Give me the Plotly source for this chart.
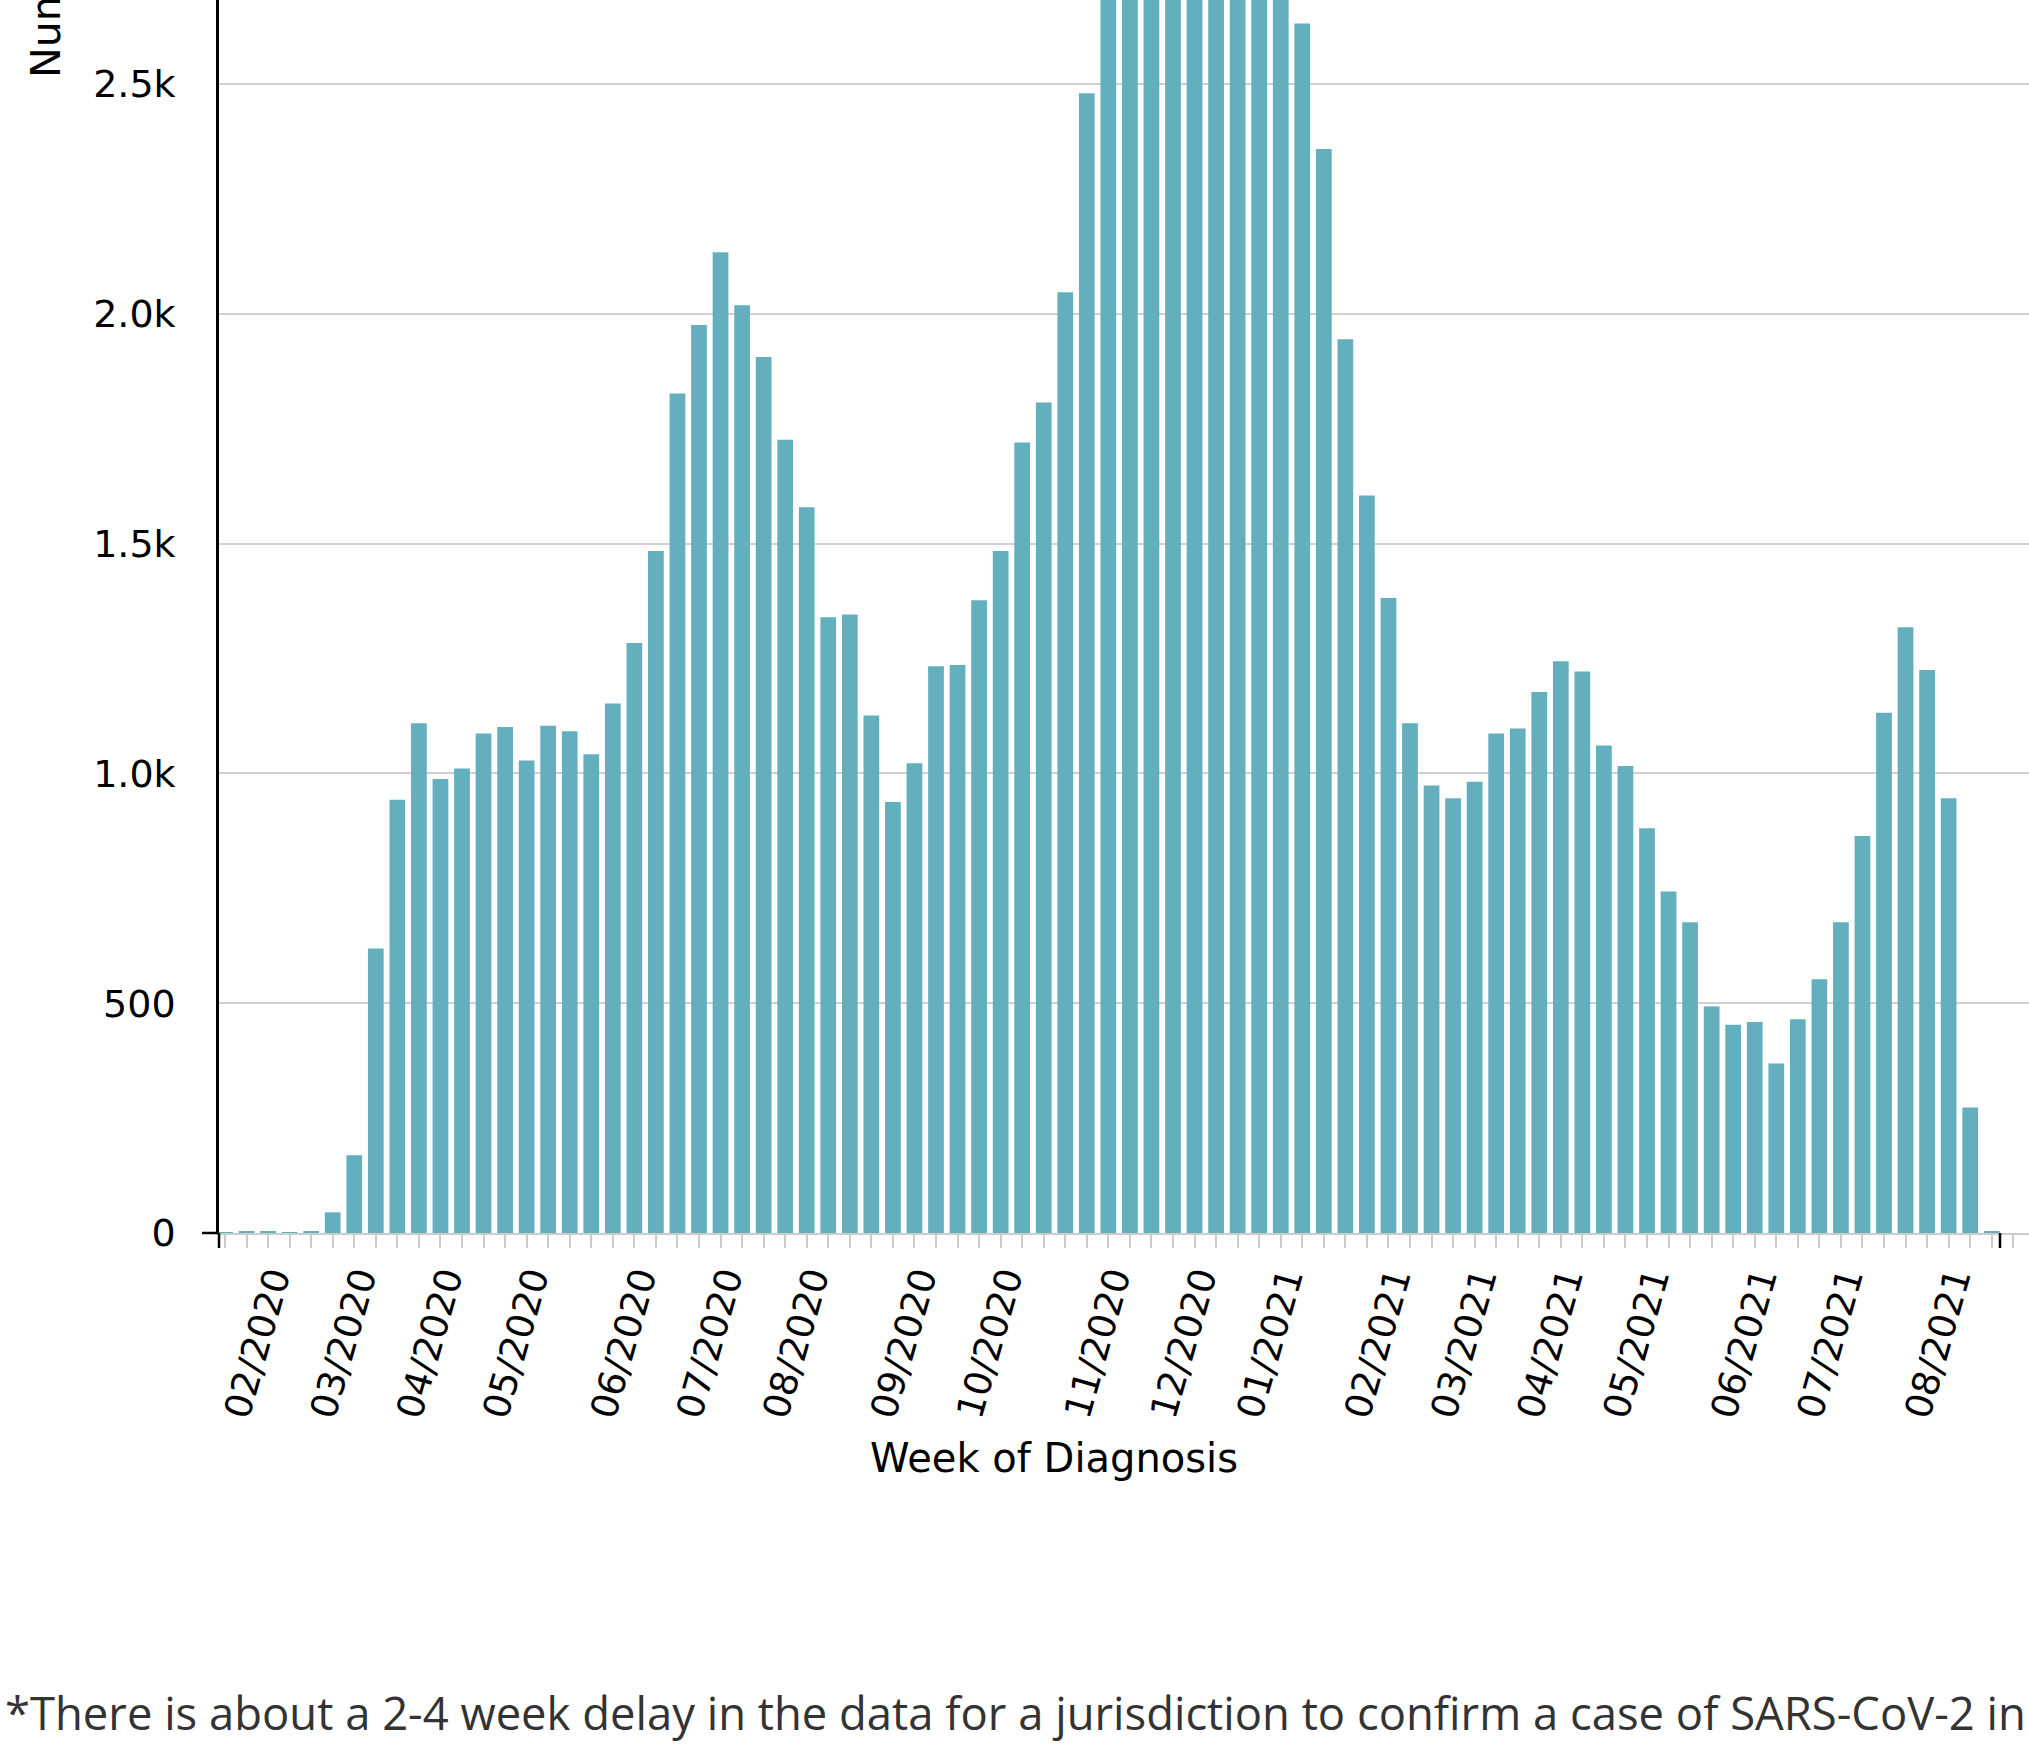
import pandas as pd
import plotly.graph_objects as go

# ---- data ----
first_week = "2020-01-18"
n_weeks = 83
weeks = pd.date_range(first_week, periods=n_weeks, freq="7D")

cases = [1, 4, 4, 1, 4, 45, 169, 619, 943, 1109,
         988, 1011, 1087, 1101, 1028, 1104, 1092, 1042, 1152, 1284,
         1484, 1827, 1976, 2134, 2019, 1906, 1726, 1579, 1340, 1346,
         1126, 938, 1022, 1233, 1236, 1377, 1484, 1720, 1807, 2047,
         2480, 2850, 3100, 3350, 3500, 3450, 3300, 3400, 3150, 2900,
         2632, 2359, 1945, 1605, 1382, 1109, 974, 946, 982, 1087,
         1098, 1177, 1244, 1222, 1061, 1016, 881, 743, 676, 493,
         453, 459, 369, 465, 552, 676, 864, 1132, 1318, 1225,
         946, 273, 4]

x_tick_dates = ["2020-02-08", "2020-03-07", "2020-04-04", "2020-05-02", "2020-06-06",
                "2020-07-04", "2020-08-01", "2020-09-05", "2020-10-03", "2020-11-07",
                "2020-12-05", "2021-01-02", "2021-02-06", "2021-03-06", "2021-04-03",
                "2021-05-01", "2021-06-05", "2021-07-03", "2021-08-07"]
x_tick_labels = ["02/2020", "03/2020", "04/2020", "05/2020", "06/2020",
                 "07/2020", "08/2020", "09/2020", "10/2020", "11/2020",
                 "12/2020", "01/2021", "02/2021", "03/2021", "04/2021",
                 "05/2021", "06/2021", "07/2021", "08/2021"]
y_tick_vals = [0, 500, 1000, 1500, 2000, 2500]
y_tick_labels = ["0", "500", "1.0k", "1.5k", "2.0k", "2.5k"]

# ---- layout geometry (pixels) ----
W, H = 2029, 1752
L, R, T, B = 219, 0, 0, 519
PW, PH = W - L - R, H - T - B
day = pd.Timedelta(days=1)
x0 = pd.Timestamp(first_week) - 0.278 * 7 * day
x1 = pd.Timestamp(first_week) + 83.73 * 7 * day
# rotated labels end on the tick with their lower edge: nudge anchor left
label_shift = pd.Timedelta(hours=5.4 * 24)
tick_positions = [pd.Timestamp(d) - label_shift for d in x_tick_dates]

def px(xp):
    return (xp - L) / PW

def py(yp):
    return (H - B - yp) / PH

BAR = "#63afbd"
FONT = "DejaVu Sans"

fig = go.Figure(go.Bar(x=weeks, y=cases, marker=dict(color=BAR, line=dict(width=0))))

fig.update_layout(
    width=W, height=H, autosize=False,
    margin=dict(l=L, r=R, t=T, b=B, pad=0),
    paper_bgcolor="white", plot_bgcolor="white",
    bargap=0.27, showlegend=False,
    font=dict(family=FONT, color="black"),
)

fig.update_xaxes(
    type="date", range=[x0, x1],
    tickmode="array", tickvals=tick_positions, ticktext=x_tick_labels,
    tickangle=-74, tickfont=dict(family=FONT, size=37, color="black"),
    ticks="", ticklen=0,
    minor=dict(ticks="outside", ticklen=13, tickwidth=2, tickcolor="#cccccc",
               dtick=7 * 86400000, tick0=first_week, showgrid=False),
    showgrid=False, zeroline=False,
    showline=True, linecolor="#cccccc", linewidth=2,
    ticklabelstandoff=7,
)

fig.update_yaxes(
    range=[0, 2683],
    tickmode="array", tickvals=y_tick_vals, ticktext=y_tick_labels,
    tickfont=dict(family=FONT, size=38, color="black"),
    ticks="", showgrid=True, gridcolor="#d0d0d0", gridwidth=2,
    zeroline=False, showline=True, linecolor="black", linewidth=2.5,
    ticklabelstandoff=33,
)

# outer ticks of axes (domain ends)
line_k = dict(color="black", width=2.5)
fig.add_shape(type="line", xref="paper", yref="paper",
              x0=px(202), x1=px(219), y0=py(1233), y1=py(1233), line=line_k)
fig.add_shape(type="line", xref="paper", yref="paper",
              x0=px(219), x1=px(219), y0=py(1233), y1=py(1248), line=line_k)
fig.add_shape(type="line", xref="paper", yref="paper",
              x0=px(2000), x1=px(2000), y0=py(1233), y1=py(1248), line=line_k)

# axis titles and footnote
fig.add_annotation(text="Week of Diagnosis", xref="paper", yref="paper",
                   x=px(1054), y=py(1458), xanchor="center", yanchor="middle",
                   showarrow=False, font=dict(family=FONT, size=40, color="black"))
fig.add_annotation(text="Number of Cases", xref="paper", yref="paper",
                   x=px(46), y=py(80), xanchor="center", yanchor="bottom",
                   textangle=-90, showarrow=False,
                   font=dict(family=FONT, size=41, color="black"))
fig.add_annotation(text="*There is about a 2-4 week delay in the data for a jurisdiction to confirm a case of SARS-CoV-2 in",
                   xref="paper", yref="paper", x=px(3), y=py(1712),
                   xanchor="left", yanchor="middle", showarrow=False,
                   font=dict(family="Open Sans", size=45.4, color="#333333"))

fig.write_html("out.html", post_script="document.body.style.margin='0px';",
               config={"displayModeBar": False})
